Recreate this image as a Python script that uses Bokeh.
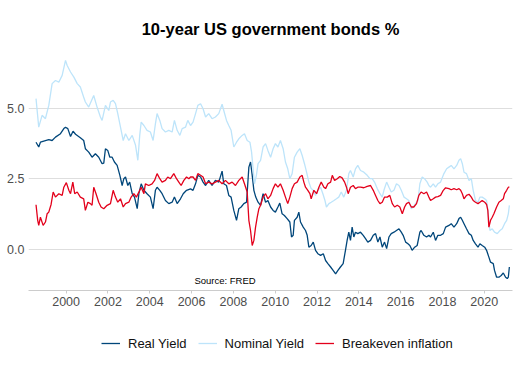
from bokeh.plotting import figure
from bokeh.layouts import column
from bokeh.models import FixedTicker, Legend, LegendItem, Label, Range1d
from bokeh.embed import file_html
from bokeh.resources import INLINE

# ---- data (decimal years, %) ----
nominal_years = [1998.56, 1998.69, 1998.85, 1999.01, 1999.17, 1999.33, 1999.49, 1999.65, 1999.81, 1999.97,
                 2000.05, 2000.21, 2000.37, 2000.53, 2000.68, 2000.84, 2000.92, 2001.08, 2001.32, 2001.48,
                 2001.64, 2001.72, 2001.88, 2002.04, 2002.12, 2002.25, 2002.36, 2002.47, 2002.60, 2002.73,
                 2002.84, 2003.00, 2003.16, 2003.32, 2003.43, 2003.52, 2003.59, 2003.72, 2003.87, 2004.03,
                 2004.16, 2004.27, 2004.35, 2004.48, 2004.59, 2004.75, 2004.91, 2005.07, 2005.18, 2005.31,
                 2005.44, 2005.55, 2005.71, 2005.82, 2005.95, 2006.07, 2006.19, 2006.30, 2006.43, 2006.55,
                 2006.67, 2006.82, 2006.98, 2007.14, 2007.30, 2007.46, 2007.54, 2007.67, 2007.78, 2007.89,
                 2008.02, 2008.15, 2008.26, 2008.42, 2008.53, 2008.66, 2008.79, 2008.87, 2008.95, 2009.01,
                 2009.10, 2009.18, 2009.30, 2009.42, 2009.54, 2009.65, 2009.78, 2009.90, 2010.01, 2010.13,
                 2010.25, 2010.38, 2010.49, 2010.60, 2010.70, 2010.81, 2010.92, 2011.05, 2011.18, 2011.29,
                 2011.40, 2011.50, 2011.61, 2011.72, 2011.82, 2011.93, 2012.04, 2012.17, 2012.28, 2012.38,
                 2012.45, 2012.57, 2012.68, 2012.81, 2012.93, 2013.04, 2013.16, 2013.28, 2013.41, 2013.52,
                 2013.60, 2013.73, 2013.84, 2013.95, 2014.08, 2014.24, 2014.40, 2014.53, 2014.64, 2014.75,
                 2014.88, 2015.01, 2015.12, 2015.20, 2015.33, 2015.44, 2015.55, 2015.68, 2015.80, 2015.92,
                 2016.03, 2016.16, 2016.28, 2016.39, 2016.51, 2016.60, 2016.71, 2016.83, 2016.92, 2017.03,
                 2017.14, 2017.27, 2017.35, 2017.43, 2017.56, 2017.67, 2017.78, 2017.91, 2018.07, 2018.20,
                 2018.31, 2018.42, 2018.55, 2018.68, 2018.79, 2018.87, 2018.95, 2019.03, 2019.15, 2019.27,
                 2019.38, 2019.47, 2019.58, 2019.70, 2019.79, 2019.90, 2020.02, 2020.11, 2020.17, 2020.27,
                 2020.38, 2020.49, 2020.62, 2020.75, 2020.86, 2020.97, 2021.07, 2021.15, 2021.20]
nominal_vals = [5.34, 4.33, 4.75, 4.63, 5.10, 5.87, 5.98, 5.92, 6.16, 6.69,
                6.51, 6.28, 6.10, 5.87, 5.75, 5.39, 5.22, 5.04, 5.45, 5.04,
                4.69, 4.57, 5.10, 4.92, 5.22, 5.28, 5.16, 4.81, 4.33, 3.86,
                4.10, 3.86, 4.04, 3.69, 3.16, 4.04, 4.51, 4.39, 4.22, 4.16,
                3.86, 4.45, 4.81, 4.57, 4.28, 4.16, 4.22, 4.16, 4.57, 4.22,
                4.04, 4.28, 4.33, 4.57, 4.39, 4.51, 4.81, 5.10, 5.16, 4.98,
                4.69, 4.81, 4.63, 4.69, 4.81, 5.14, 4.92, 4.57, 4.39, 4.22,
                3.63, 3.80, 3.92, 4.04, 4.10, 3.86, 3.80, 3.45, 2.80, 2.33,
                2.63, 3.04, 3.16, 3.63, 3.75, 3.51, 3.27, 3.57, 3.75, 3.63,
                3.86, 3.57, 3.10, 2.86, 2.51, 2.69, 3.27, 3.45, 3.57, 3.33,
                3.04, 2.74, 2.39, 2.16, 2.10, 1.92, 2.10, 2.21, 1.98, 1.74,
                1.51, 1.63, 1.68, 1.74, 1.80, 1.86, 2.04, 1.86, 2.10, 2.69,
                2.80, 2.57, 2.86, 2.98, 2.80, 2.74, 2.63, 2.51, 2.51, 2.39,
                2.16, 1.98, 1.86, 2.10, 2.39, 2.21, 2.04, 2.10, 2.33, 2.27,
                2.10, 1.86, 1.80, 1.74, 1.45, 1.51, 1.63, 1.74, 2.33, 2.57,
                2.51, 2.39, 2.27, 2.21, 2.33, 2.21, 2.33, 2.39, 2.69, 2.86,
                2.92, 2.98, 2.86, 2.98, 3.16, 3.22, 3.04, 2.74, 2.69, 2.45,
                2.51, 2.10, 1.74, 1.68, 1.86, 1.86, 1.80, 1.74, 1.39, 0.68,
                0.74, 0.62, 0.57, 0.68, 0.74, 0.92, 1.04, 1.27, 1.57]

real_years = [1998.56, 1998.69, 1998.77, 1998.93, 1999.17, 1999.33, 1999.49, 1999.73, 1999.89, 1999.97,
              2000.08, 2000.21, 2000.33, 2000.45, 2000.68, 2000.84, 2000.92, 2001.08, 2001.24, 2001.40,
              2001.56, 2001.72, 2001.80, 2001.88, 2001.99, 2002.09, 2002.20, 2002.31, 2002.44, 2002.57,
              2002.68, 2002.76, 2002.84, 2002.95, 2003.04, 2003.16, 2003.27, 2003.40, 2003.48, 2003.59,
              2003.72, 2003.87, 2004.03, 2004.16, 2004.27, 2004.35, 2004.48, 2004.59, 2004.75, 2004.91,
              2005.07, 2005.18, 2005.31, 2005.47, 2005.60, 2005.76, 2005.95, 2006.07, 2006.19, 2006.30,
              2006.43, 2006.55, 2006.67, 2006.82, 2006.98, 2007.14, 2007.30, 2007.46, 2007.54, 2007.67,
              2007.78, 2007.89, 2008.02, 2008.15, 2008.26, 2008.37, 2008.50, 2008.63, 2008.74, 2008.82,
              2008.90, 2008.98, 2009.07, 2009.18, 2009.30, 2009.42, 2009.54, 2009.65, 2009.78, 2009.90,
              2010.01, 2010.13, 2010.22, 2010.33, 2010.44, 2010.57, 2010.70, 2010.78, 2010.86, 2010.92,
              2011.05, 2011.13, 2011.21, 2011.34, 2011.45, 2011.53, 2011.61, 2011.72, 2011.82, 2011.93,
              2012.04, 2012.17, 2012.30, 2012.41, 2012.52, 2012.65, 2012.77, 2012.89, 2013.00, 2013.12,
              2013.25, 2013.36, 2013.44, 2013.52, 2013.60, 2013.68, 2013.76, 2013.84, 2013.95, 2014.08,
              2014.21, 2014.32, 2014.43, 2014.56, 2014.69, 2014.80, 2014.91, 2015.01, 2015.12, 2015.23,
              2015.33, 2015.44, 2015.55, 2015.68, 2015.80, 2015.92, 2016.03, 2016.12, 2016.24, 2016.35,
              2016.44, 2016.55, 2016.67, 2016.79, 2016.92, 2016.98, 2017.11, 2017.24, 2017.35, 2017.43,
              2017.56, 2017.67, 2017.78, 2017.91, 2018.04, 2018.15, 2018.31, 2018.42, 2018.55, 2018.68,
              2018.79, 2018.87, 2018.95, 2019.03, 2019.15, 2019.27, 2019.38, 2019.47, 2019.58, 2019.70,
              2019.79, 2019.90, 2020.02, 2020.11, 2020.22, 2020.30, 2020.43, 2020.49, 2020.59, 2020.70,
              2020.81, 2020.91, 2021.02, 2021.10, 2021.15, 2021.20]
real_vals = [3.80, 3.63, 3.80, 3.84, 3.89, 3.86, 3.98, 4.10, 4.28, 4.33,
             4.28, 4.00, 4.19, 4.08, 3.96, 3.86, 3.57, 3.45, 3.27, 3.39,
             3.27, 3.04, 3.06, 3.57, 3.51, 3.27, 3.27, 3.10, 2.98, 2.63,
             2.27, 2.51, 2.57, 2.27, 2.39, 1.98, 1.86, 1.45, 1.98, 2.33,
             2.10, 1.98, 1.86, 1.45, 2.10, 2.21, 2.10, 1.98, 1.74, 1.63,
             1.68, 1.86, 1.63, 1.80, 1.98, 2.10, 2.15, 2.10, 2.33, 2.63,
             2.57, 2.39, 2.27, 2.45, 2.27, 2.45, 2.39, 2.78, 2.33, 2.27,
             1.92, 1.86, 1.39, 1.04, 1.45, 1.51, 1.63, 1.68, 2.92, 3.10,
             2.63, 2.10, 1.86, 1.68, 1.57, 1.98, 1.68, 1.74, 1.51, 1.39,
             1.33, 1.51, 1.65, 1.27, 1.21, 1.10, 0.98, 0.45, 0.51, 1.04,
             1.15, 1.33, 0.98, 0.80, 0.68, 0.51, 0.09, 0.15, 0.27, -0.02,
             -0.14, -0.20, -0.14, -0.38, -0.49, -0.61, -0.73, -0.85, -0.73, -0.61,
             -0.49, -0.02, 0.33, 0.62, 0.33, 0.80, 0.45, 0.62, 0.57, 0.62,
             0.51, 0.39, 0.27, 0.33, 0.51, 0.57, 0.27, 0.45, 0.09, 0.27,
             0.04, 0.45, 0.57, 0.62, 0.68, 0.74, 0.62, 0.51, 0.27, 0.21,
             0.15, -0.02, 0.09, 0.15, 0.62, 0.68, 0.51, 0.45, 0.51, 0.45,
             0.62, 0.33, 0.51, 0.51, 0.57, 0.80, 0.86, 0.92, 0.80, 0.92,
             1.10, 1.15, 1.04, 0.92, 0.74, 0.57, 0.51, 0.33, 0.21, 0.09,
             0.21, 0.15, 0.09, -0.02, -0.26, -0.44, -0.49, -0.73, -0.97, -0.97,
             -0.91, -0.82, -0.97, -1.02, -0.97, -0.61]

breakeven_years = [1998.56, 1998.64, 1998.69, 1998.77, 1998.90, 1999.01, 1999.09, 1999.17, 1999.28, 1999.38,
                   1999.49, 1999.65, 1999.81, 1999.89, 2000.01, 2000.13, 2000.21, 2000.32, 2000.41, 2000.53,
                   2000.68, 2000.84, 2000.92, 2001.04, 2001.16, 2001.24, 2001.32, 2001.43, 2001.56, 2001.67,
                   2001.80, 2001.96, 2002.12, 2002.25, 2002.36, 2002.47, 2002.60, 2002.73, 2002.84, 2003.00,
                   2003.11, 2003.24, 2003.36, 2003.48, 2003.59, 2003.72, 2003.79, 2003.95, 2004.11, 2004.23,
                   2004.35, 2004.48, 2004.59, 2004.75, 2004.86, 2004.99, 2005.15, 2005.28, 2005.39, 2005.50,
                   2005.63, 2005.76, 2005.87, 2005.95, 2006.07, 2006.19, 2006.30, 2006.43, 2006.55, 2006.67,
                   2006.82, 2006.98, 2007.14, 2007.30, 2007.46, 2007.62, 2007.78, 2007.94, 2008.10, 2008.26,
                   2008.42, 2008.53, 2008.66, 2008.74, 2008.82, 2008.90, 2008.98, 2009.06, 2009.14, 2009.22,
                   2009.30, 2009.42, 2009.54, 2009.65, 2009.78, 2009.90, 2010.01, 2010.13, 2010.25, 2010.38,
                   2010.49, 2010.60, 2010.70, 2010.81, 2010.92, 2011.05, 2011.18, 2011.29, 2011.37, 2011.45,
                   2011.56, 2011.66, 2011.72, 2011.85, 2011.98, 2012.09, 2012.20, 2012.33, 2012.41, 2012.52,
                   2012.65, 2012.73, 2012.84, 2012.97, 2013.09, 2013.20, 2013.32, 2013.41, 2013.49, 2013.60,
                   2013.73, 2013.84, 2013.95, 2014.08, 2014.24, 2014.40, 2014.56, 2014.69, 2014.80, 2014.91,
                   2015.01, 2015.12, 2015.23, 2015.36, 2015.48, 2015.60, 2015.71, 2015.84, 2015.96, 2016.08,
                   2016.19, 2016.28, 2016.39, 2016.51, 2016.63, 2016.76, 2016.87, 2016.98, 2017.11, 2017.24,
                   2017.35, 2017.43, 2017.56, 2017.67, 2017.78, 2017.91, 2018.04, 2018.15, 2018.31, 2018.42,
                   2018.55, 2018.68, 2018.79, 2018.87, 2018.95, 2019.03, 2019.15, 2019.27, 2019.38, 2019.47,
                   2019.58, 2019.70, 2019.79, 2019.90, 2020.02, 2020.11, 2020.17, 2020.22, 2020.30, 2020.38,
                   2020.46, 2020.59, 2020.70, 2020.81, 2020.91, 2020.97, 2021.07, 2021.15, 2021.20]
breakeven_vals = [1.59, 1.04, 0.86, 1.15, 0.86, 0.98, 1.27, 1.33, 1.60, 2.04,
                  1.86, 1.98, 1.92, 2.21, 2.37, 2.10, 1.98, 2.39, 1.98, 2.04,
                  1.86, 1.80, 1.39, 1.68, 1.63, 1.57, 2.21, 1.98, 1.68, 1.51,
                  1.45, 1.57, 1.63, 2.10, 1.86, 1.68, 1.80, 1.51, 1.63, 1.68,
                  1.86, 1.98, 1.86, 2.04, 2.21, 1.98, 2.33, 2.27, 2.33, 2.45,
                  2.69, 2.51, 2.39, 2.45, 2.57, 2.51, 2.69, 2.51, 2.39, 2.27,
                  2.45, 2.57, 2.51, 2.57, 2.57, 2.45, 2.69, 2.63, 2.57, 2.33,
                  2.39, 2.33, 2.39, 2.45, 2.33, 2.45, 2.33, 2.39, 2.27, 2.45,
                  2.57, 2.33, 2.04, 1.04, 0.68, 0.15, 0.33, 0.80, 1.15, 1.45,
                  1.57, 1.86, 1.98, 1.80, 1.92, 2.16, 2.33, 2.21, 2.33, 2.10,
                  1.86, 1.63, 1.86, 2.16, 2.33, 2.39, 2.57, 2.63, 2.39, 2.21,
                  2.10, 1.98, 1.80, 2.10, 1.98, 2.21, 2.39, 2.21, 2.16, 2.33,
                  2.39, 2.63, 2.45, 2.51, 2.59, 2.54, 2.39, 2.21, 1.98, 2.21,
                  2.27, 2.16, 2.21, 2.21, 2.19, 2.24, 2.27, 2.10, 1.92, 1.74,
                  1.63, 1.68, 1.86, 1.86, 1.92, 1.63, 1.51, 1.57, 1.51, 1.27,
                  1.51, 1.63, 1.68, 1.51, 1.51, 1.63, 1.92, 2.04, 1.98, 2.04,
                  1.86, 1.74, 1.80, 1.86, 1.88, 1.92, 2.10, 2.19, 2.16, 2.12,
                  2.16, 2.12, 2.16, 2.10, 1.98, 1.80, 1.92, 1.96, 1.86, 1.74,
                  1.68, 1.63, 1.68, 1.74, 1.68, 1.60, 1.39, 0.80, 1.04, 1.15,
                  1.27, 1.51, 1.68, 1.74, 1.80, 1.98, 2.10, 2.21, 2.21]

x_ticks = [2000, 2002, 2004, 2006, 2008, 2010, 2012, 2014, 2016, 2018, 2020]
y_ticks = [0.0, 2.5, 5.0]
y_tick_labels = {0.0: "0.0", 2.5: "2.5", 5.0: "5.0"}
series_names = ["Real Yield", "Nominal Yield", "Breakeven inflation"]
series_colors = ["#00467a", "#bde4fa", "#e3001b"]
source_text = "Source: FRED"
source_pos = (2007.6, -1.08)

series_years = [real_years, nominal_years, breakeven_years]
series_vals = [real_vals, nominal_vals, breakeven_vals]

FONT = "Liberation Sans"

# ---------------- main chart ----------------
p = figure(width=521, height=325, output_backend="svg", toolbar_location=None,
           x_range=Range1d(1998.20, 2021.35), y_range=Range1d(-1.44, 7.04),
           min_border_left=28, min_border_right=9, min_border_top=50, min_border_bottom=35,
           title="10-year US government bonds %")
p.outline_line_color = None
p.background_fill_color = "white"
p.border_fill_color = "white"

p.title.align = "center"
p.title.text_font = FONT
p.title.text_font_style = "bold"
p.title.text_font_size = "16.5px"
p.title.text_color = "#000000"
p.title.standoff = 26

for yrs, vals, col in zip(series_years, series_vals, series_colors):
    p.line(yrs, vals, line_color=col, line_width=1.3)

p.xaxis.ticker = FixedTicker(ticks=x_ticks)
p.xaxis.minor_tick_line_color = None
p.xaxis.axis_line_color = "#cccccc"
p.xaxis.major_tick_line_color = "#cccccc"
p.xaxis.major_tick_out = 3
p.xaxis.major_tick_in = 0
p.xaxis.minor_tick_out = 0
p.xaxis.major_label_standoff = 3
p.xaxis.major_label_text_font = FONT
p.xaxis.major_label_text_font_size = "12.5px"
p.xaxis.major_label_text_color = "#4d4d4d"

p.yaxis.ticker = FixedTicker(ticks=y_ticks)
p.yaxis.major_label_overrides = y_tick_labels
p.yaxis.minor_tick_line_color = None
p.yaxis.axis_line_color = None
p.yaxis.major_tick_line_color = None
p.yaxis.major_tick_out = 0
p.yaxis.major_tick_in = 0
p.yaxis.minor_tick_out = 0
p.yaxis.major_label_standoff = 4
p.yaxis.major_label_text_font = FONT
p.yaxis.major_label_text_font_size = "12.5px"
p.yaxis.major_label_text_color = "#4d4d4d"

p.xgrid.grid_line_color = None
p.ygrid.ticker = FixedTicker(ticks=y_ticks)
p.ygrid.grid_line_color = "#dedede"

src = Label(x=source_pos[0], y=source_pos[1], text=source_text, text_align="center",
            text_baseline="middle", text_font=FONT, text_font_size="9.5px", text_color="#000000")
p.add_layout(src)

# ---------------- legend strip ----------------
# same series drawn again, but the strip's ranges keep them out of view;
# they only supply the legend swatches
q = figure(width=521, height=44, output_backend="svg", toolbar_location=None,
           x_range=Range1d(0, 1), y_range=Range1d(100, 101), x_axis_type=None, y_axis_type=None,
           min_border_left=0, min_border_right=0, min_border_top=0, min_border_bottom=0)
q.outline_line_color = None
q.grid.grid_line_color = None
q.background_fill_color = "white"
q.border_fill_color = "white"
proxies = [q.line(yrs, vals, line_color=col, line_width=1.3)
           for yrs, vals, col in zip(series_years, series_vals, series_colors)]

legend = Legend(items=[LegendItem(label=n, renderers=[r]) for n, r in zip(series_names, proxies)],
                orientation="horizontal", location=(73, 16),
                glyph_width=19, glyph_height=20, label_standoff=8, spacing=11,
                padding=0, margin=0, border_line_color=None, background_fill_alpha=0,
                label_text_font=FONT, label_text_font_size="13px", label_text_color="#111111")
q.add_layout(legend)

layout = column(p, q, spacing=0)
open("out.html", "w").write(file_html(layout, INLINE))
